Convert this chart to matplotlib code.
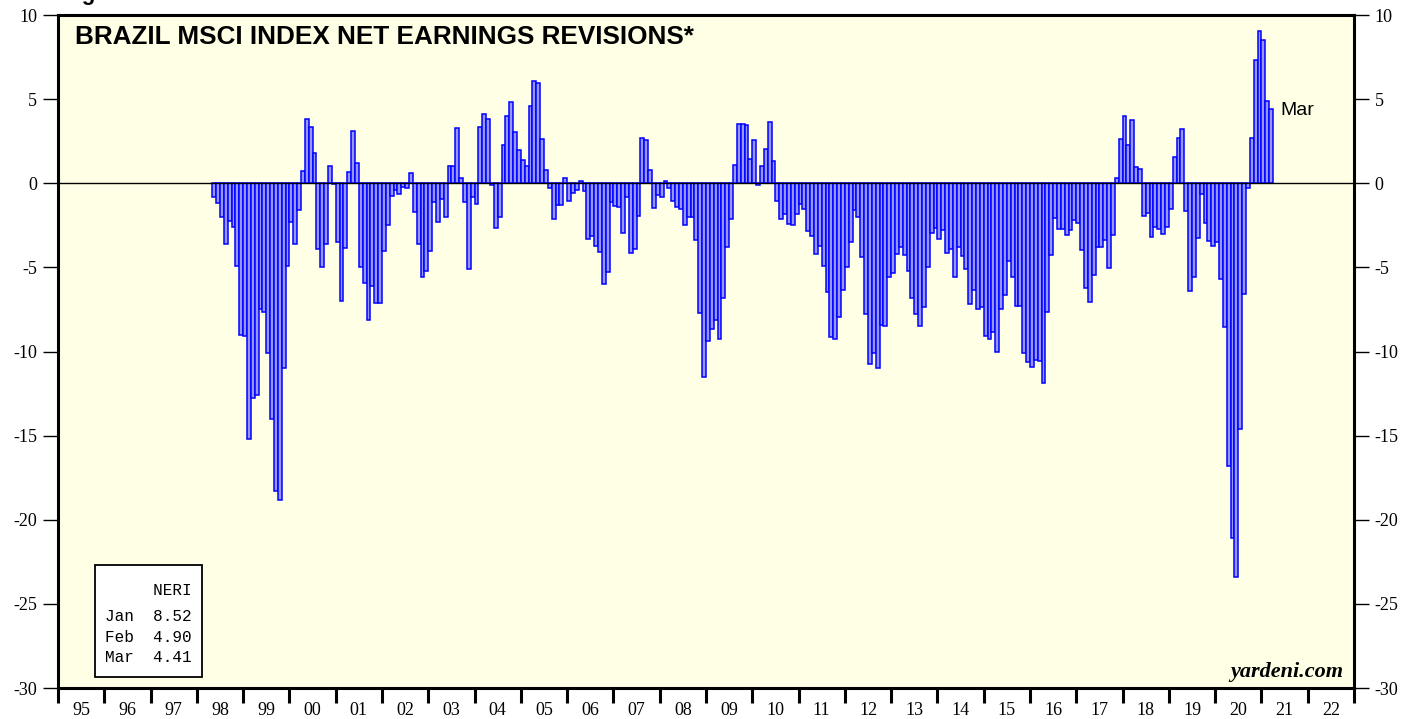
import matplotlib
matplotlib.use("Agg")
import matplotlib.pyplot as plt
import matplotlib.patches as patches
import pandas as pd

plt.rcParams['font.family'] = 'Liberation Serif'
plt.rcParams['axes.unicode_minus'] = False

# Brazil MSCI net earnings revisions, monthly from May 1998
START = "1998-05"
neri = [
  -0.83, -1.15, -2.0, -3.6, -2.24, -2.6, -4.9, -9.0,                              # 1998
  -9.1, -15.2, -12.75, -12.6, -7.5, -7.65, -10.1, -14.0, -18.3, -18.8, -11.0, -4.9,  # 1999
  -2.3, -3.6, -1.6, 0.71, 3.8, 3.35, 1.8, -3.9, -5.0, -3.6, 1.0, -0.05,           # 2000
  -3.5, -7.0, -3.85, 0.65, 3.1, 1.19, -5.0, -5.9, -8.1, -6.1, -7.1, -7.1,         # 2001
  -4.0, -2.5, -0.75, -0.4, -0.63, -0.2, -0.3, 0.6, -1.7, -3.6, -5.6, -5.2,        # 2002
  -4.0, -1.1, -2.3, -0.95, -2.0, 1.0, 1.0, 3.27, 0.34, -1.1, -5.07, -0.83,        # 2003
  -1.25, 3.33, 4.14, 3.84, -0.08, -2.67, -1.98, 2.3, 4.0, 4.85, 3.07, 2.0,        # 2004
  1.37, 1.05, 4.6, 6.06, 5.98, 2.61, 0.8, -0.3, -2.14, -1.3, -1.3, 0.3,           # 2005
  -1.05, -0.55, -0.38, 0.16, -0.44, -3.3, -3.13, -3.74, -4.08, -5.98, -5.29, -1.09,  # 2006
  -1.35, -1.43, -2.93, -0.79, -4.14, -3.9, -1.92, 2.69, 2.59, 0.81, -1.47, -0.67,    # 2007
  -0.83, 0.12, -0.28, -1.03, -1.43, -1.52, -2.48, -1.98, -1.98, -3.4, -7.7, -11.54,  # 2008
  -9.4, -8.65, -8.1, -9.25, -6.83, -3.76, -2.12, 1.09, 3.52, 3.52, 3.48, 1.45,    # 2009
  2.57, -0.08, 1.05, 2.04, 3.64, 1.31, -1.03, -2.12, -1.84, -2.42, -2.46, -1.84,  # 2010
  -1.23, -1.56, -2.81, -3.11, -4.2, -3.74, -4.91, -6.44, -9.15, -9.27, -7.96, -6.32,  # 2011
  -4.99, -3.52, -1.58, -1.98, -4.36, -7.76, -10.73, -10.08, -10.99, -8.42, -8.51, -5.58,  # 2012
  -5.31, -4.2, -3.8, -4.24, -5.23, -6.81, -7.8, -8.48, -7.33, -4.99, -2.97, -2.65,  # 2013
  -3.31, -2.77, -4.14, -3.88, -5.6, -3.76, -4.32, -5.07, -7.17, -6.34, -7.49, -7.37,  # 2014
  -9.07, -9.27, -8.87, -10.0, -7.49, -6.67, -4.65, -5.6, -7.29, -7.29, -10.06, -10.61,  # 2015
  -10.93, -10.53, -10.55, -11.86, -7.68, -4.24, -2.06, -2.71, -2.71, -3.09, -2.77, -2.16,  # 2016
  -2.36, -3.96, -6.22, -7.05, -5.47, -3.8, -3.8, -3.37, -5.03, -3.05, 0.32, 2.63,  # 2017
  4.0, 2.26, 3.76, 0.99, 0.85, -1.96, -1.78, -3.19, -2.61, -2.71, -3.01, -2.61,   # 2018
  -1.52, 1.58, 2.71, 3.23, -1.66, -6.38, -5.6, -3.27, -0.63, -2.38, -3.45, -3.7,  # 2019
  -3.52, -5.68, -8.55, -16.83, -21.1, -23.4, -14.6, -6.57, -0.28, 2.7, 7.34, 9.03,  # 2020
  8.52, 4.90, 4.41,                                                                # 2021
]

years = list(range(1995, 2023))
year_labels = [f"{y % 100:02d}" for y in years]
yticks = list(range(-30, 11, 5))

dates = pd.date_range(START, periods=len(neri), freq="MS")
xpos = dates.year + (dates.month - 1) / 12.0

fig = plt.figure(figsize=(14.19, 7.19), dpi=100)
ax = fig.add_axes([58 / 1419, 31 / 719, 1296 / 1419, 673 / 719])
ax.set_facecolor("#ffffe5")

ax.bar(xpos, neri, width=1 / 12, align="edge", color="#9696ff",
       edgecolor="#0000ff", linewidth=1.1, zorder=2)
ax.axhline(0, color="black", lw=1.0, zorder=3)

ax.set_xlim(1995, 2023)
ax.set_ylim(-30, 10)
for s in ax.spines.values():
  s.set_linewidth(2.2)

ax.set_yticks(yticks)
ax.set_yticklabels([str(v) for v in yticks])
ax.tick_params(axis="y", left=True, right=True, labelleft=True, labelright=True,
               direction="out", length=11, width=1.0, pad=4, labelsize=13)

ax.set_xticks(list(range(1995, 2024)))
ax.set_xticklabels([])
ax.set_xticks([y + 0.5 for y in years], minor=True)
ax.set_xticklabels(year_labels, minor=True)
ax.tick_params(axis="x", which="major", direction="out", length=11, width=2.2)
ax.tick_params(axis="x", which="minor", length=0, pad=10, labelsize=13)

ax.text(0.013, 0.957, "BRAZIL MSCI INDEX NET EARNINGS REVISIONS*", transform=ax.transAxes,
        family="Liberation Sans", fontweight="bold", fontsize=18.8, va="baseline")
ax.text(0.9915, 0.016, "yardeni.com", transform=ax.transAxes, family="Liberation Serif",
        fontweight="bold", style="italic", fontsize=16, ha="right", va="baseline")

# label next to the latest bar
last = dates[-1]
ax.text(last.year + last.month / 12.0 + 0.17, neri[-1] - 0.1, last.strftime("%b"),
        family="Liberation Sans", fontsize=14, va="center")

# small table of the latest readings
box = patches.Rectangle((0.0285, 0.0163), 0.0826, 0.1667, transform=ax.transAxes,
                        facecolor="white", edgecolor="black", lw=1.3, zorder=4)
ax.add_patch(box)
ax.text(0.0363, 0.1382, "     NERI", transform=ax.transAxes, family="Liberation Mono",
        fontsize=11.5, va="baseline", zorder=5)
rows_y = [0.1000, 0.0688, 0.0391]
for d, v, ry in zip(dates[-3:], neri[-3:], rows_y):
  ax.text(0.0363, ry, f"{d.strftime('%b')}  {v:4.2f}", transform=ax.transAxes,
          family="Liberation Mono", fontsize=11.5, va="baseline", zorder=5)

fig.text(62 / 1419, 1.0, "Figure", family="Liberation Sans", fontweight="bold",
         fontsize=16, va="baseline")

fig.savefig("out.png", dpi=100)
